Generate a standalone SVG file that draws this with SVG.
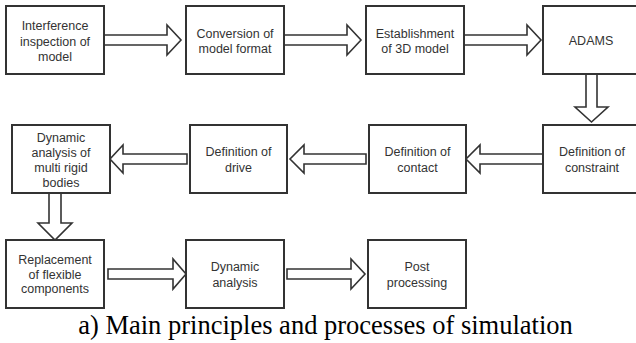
<svg xmlns="http://www.w3.org/2000/svg" width="636" height="343" viewBox="0 0 636 343">
<style>
.box{fill:#fff;stroke:#333;stroke-width:2}
.arr{fill:#fff;stroke:#333;stroke-width:1.6;stroke-linejoin:miter}
.t{font-family:"Liberation Sans",Arial,sans-serif;font-size:12.5px;fill:#333;text-anchor:middle}
.cap{font-family:"Liberation Serif","Times New Roman",serif;font-size:26.5px;fill:#000;text-anchor:middle}
</style>
<rect width="636" height="343" fill="#fff"/>
<g id="connectors">
<polygon class="arr" points="104,35 167,35 167,25 181,40 167,55 167,45 104,45"/>
<polygon class="arr" points="284,35 347,35 347,25 361,40 347,55 347,45 284,45"/>
<polygon class="arr" points="464,35 527,35 527,25 541,40 527,55 527,45 464,45"/>
<polygon class="arr" points="586,74 586,107 575,107 591.5,122 608,107 597,107 597,74"/>
<polygon class="arr" points="543,154 480,154 480,145 466,159 480,173 480,164 543,164"/>
<polygon class="arr" points="366,154 304,154 304,145 290,159 304,173 304,164 366,164"/>
<polygon class="arr" points="187,154 123,154 123,145 110,159 123,173 123,164 187,164"/>
<polygon class="arr" points="49,193 49,223 38,223 55,240 72,223 61,223 61,193"/>
<polygon class="arr" points="108,269 173,269 173,259 186,274 173,289 173,279 108,279"/>
<polygon class="arr" points="287,269 351,269 351,259 365,274 351,289 351,279 287,279"/>
</g>
<g id="n1"><rect class="box" x="6" y="6" width="98" height="68"/>
<text class="t" x="55" y="30">Interference</text><text class="t" x="55" y="45.5">inspection of</text><text class="t" x="55" y="61">model</text></g>
<g id="n2"><rect class="box" x="186" y="6" width="98" height="68"/>
<text class="t" x="235" y="37.5">Conversion of</text><text class="t" x="235" y="53">model format</text></g>
<g id="n3"><rect class="box" x="366" y="6" width="98" height="68"/>
<text class="t" x="415" y="37.5">Establishment</text><text class="t" x="415" y="53">of 3D model</text></g>
<g id="n4"><rect class="box" x="543" y="6" width="98" height="68"/>
<text class="t" x="591" y="44.5">ADAMS</text></g>
<g id="n5"><rect class="box" x="543" y="125" width="98" height="68"/>
<text class="t" x="592" y="156">Definition of</text><text class="t" x="592" y="171.5">constraint</text></g>
<g id="n6"><rect class="box" x="369" y="125" width="97" height="68"/>
<text class="t" x="417.5" y="156">Definition of</text><text class="t" x="417.5" y="171.5">contact</text></g>
<g id="n7"><rect class="box" x="190" y="125" width="97" height="68"/>
<text class="t" x="238.5" y="156">Definition of</text><text class="t" x="238.5" y="171.5">drive</text></g>
<g id="n8"><rect class="box" x="12" y="125" width="98" height="68"/>
<text class="t" x="61" y="141.5">Dynamic</text><text class="t" x="61" y="156.5">analysis of</text><text class="t" x="61" y="171.5">multi rigid</text><text class="t" x="61" y="186.5">bodies</text></g>
<g id="n9"><rect class="box" x="6" y="240" width="98" height="68"/>
<text class="t" x="55" y="264">Replacement</text><text class="t" x="55" y="278.5">of flexible</text><text class="t" x="55" y="293">components</text></g>
<g id="n10"><rect class="box" x="186" y="240" width="98" height="68"/>
<text class="t" x="235" y="271">Dynamic</text><text class="t" x="235" y="286.5">analysis</text></g>
<g id="n11"><rect class="box" x="368" y="240" width="98" height="68"/>
<text class="t" x="417" y="271">Post</text><text class="t" x="417" y="286.5">processing</text></g>
<text class="cap" x="325.5" y="334">a) Main principles and processes of simulation</text>
</svg>
